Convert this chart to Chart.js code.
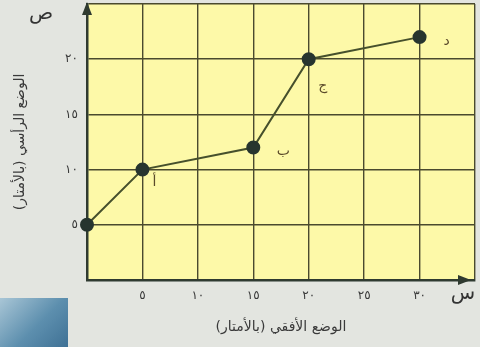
<!DOCTYPE html>
<html>
<head>
<meta charset="utf-8">
<script src="https://cdn.jsdelivr.net/npm/chart.js@4"></script>
<style>
  body { margin: 0; background: #e3e5e0; }
  #wrap { position: relative; width: 480px; height: 347px; }
  #deco { position: absolute; left: 0; top: 298px; width: 68px; height: 49px;
          background: linear-gradient(135deg, #a9c6d6 0%, #5d8fae 55%, #3f7195 100%); }
  canvas { position: absolute; left: 0; top: 0; }
</style>
</head>
<body>
<div id="wrap">
  <div id="deco"></div>
  <canvas id="chart" width="480" height="347"></canvas>
</div>
<script>
// data
const xValues = [0, 5, 15, 20, 30];
const yValues = [5, 10, 12, 20, 22];
const pointNames = ['', 'أ', 'ب', 'ج', 'د'];
const xTickLabels = ['', '٥', '١٠', '١٥', '٢٠', '٢٥', '٣٠', ''];
const yTickLabels = ['', '٥', '١٠', '١٥', '٢٠', ''];
const xTitle = 'الوضع الأفقي (بالأمتار)';
const yTitle = 'الوضع الرأسي (بالأمتار)';

const ink = '#4a4a2e';
const font = 'DejaVu Sans';

const decor = {
    id: 'decor',
    beforeDraw(chart) {
        const { ctx, chartArea: a } = chart;
        ctx.save();
        ctx.fillStyle = '#fdf9a8';
        ctx.fillRect(a.left, a.top, a.right - a.left, a.bottom - a.top);
        ctx.restore();
    },
    afterDatasetsDraw(chart) {
        const { ctx, chartArea: a, scales } = chart;
        ctx.save();
        // point letters
        ctx.fillStyle = '#5a4a2a';
        ctx.font = '14px ' + font;
        ctx.textAlign = 'center';
        ctx.textBaseline = 'middle';
        const offs = [[0, 0], [12, 13], [30, 4], [14, 27], [27, 4]];
        pointNames.forEach((n, i) => {
            if (!n) return;
            const px = scales.x.getPixelForValue(xValues[i]);
            const py = scales.y.getPixelForValue(yValues[i]);
            ctx.fillText(n, px + offs[i][0], py + offs[i][1]);
        });
        // axis arrows
        ctx.fillStyle = '#2f3a30';
        ctx.beginPath();
        ctx.moveTo(a.left, a.top - 2);
        ctx.lineTo(a.left - 5, a.top + 11);
        ctx.lineTo(a.left + 5, a.top + 11);
        ctx.closePath();
        ctx.fill();
        ctx.beginPath();
        ctx.moveTo(a.right - 4, a.bottom);
        ctx.lineTo(a.right - 17, a.bottom - 5);
        ctx.lineTo(a.right - 17, a.bottom + 5);
        ctx.closePath();
        ctx.fill();
        // axis letters
        ctx.fillStyle = '#333';
        ctx.font = '20px ' + font;
        ctx.fillText('ص', a.left - 46, a.top + 10);
        ctx.fillText('س', a.right - 12, a.bottom + 14);
        ctx.restore();
    }
};

new Chart(document.getElementById('chart'), {
    type: 'scatter',
    data: {
        datasets: [{
            data: xValues.map((x, i) => ({ x, y: yValues[i] })),
            showLine: true,
            borderColor: '#46502c',
            borderWidth: 2,
            pointRadius: 6,
            pointBackgroundColor: '#27352f',
            pointBorderColor: '#27352f',
            clip: false
        }]
    },
    options: {
        responsive: false,
        animation: false,
        layout: { autoPadding: false, padding: { top: 4, right: 5, left: 0, bottom: 0 } },
        plugins: { legend: { display: false }, tooltip: { enabled: false } },
        scales: {
            x: {
                type: 'linear', min: 0, max: 35,
                ticks: {
                    stepSize: 5, padding: 9, color: '#3a3a3a',
                    font: { family: font, size: 12 },
                    callback: (v) => xTickLabels[v / 5]
                },
                grid: { color: ink, lineWidth: 1.4, drawTicks: false },
                border: { color: '#2f3a30', width: 2.5 },
                title: {
                    display: true, text: xTitle, color: '#3a3a3a',
                    font: { family: font, size: 14 }, padding: { top: 2, bottom: 11 }
                },
                afterFit: (s) => { s.height = 67; s.paddingLeft = 0; s.paddingRight = 0; }
            },
            y: {
                min: 0, max: 25,
                ticks: {
                    stepSize: 5, padding: 9, color: '#3a3a3a',
                    font: { family: font, size: 12 },
                    callback: (v) => yTickLabels[v / 5]
                },
                grid: { color: ink, lineWidth: 1.4, drawTicks: false },
                border: { color: '#2f3a30', width: 2.5 },
                title: {
                    display: true, text: yTitle, color: '#3a3a3a',
                    font: { family: font, size: 14 }, padding: { top: 12, bottom: 0 }
                },
                afterFit: (s) => { s.width = 87; s.paddingTop = 0; s.paddingBottom = 0; }
            }
        }
    },
    plugins: [decor]
});
</script>
</body>
</html>
